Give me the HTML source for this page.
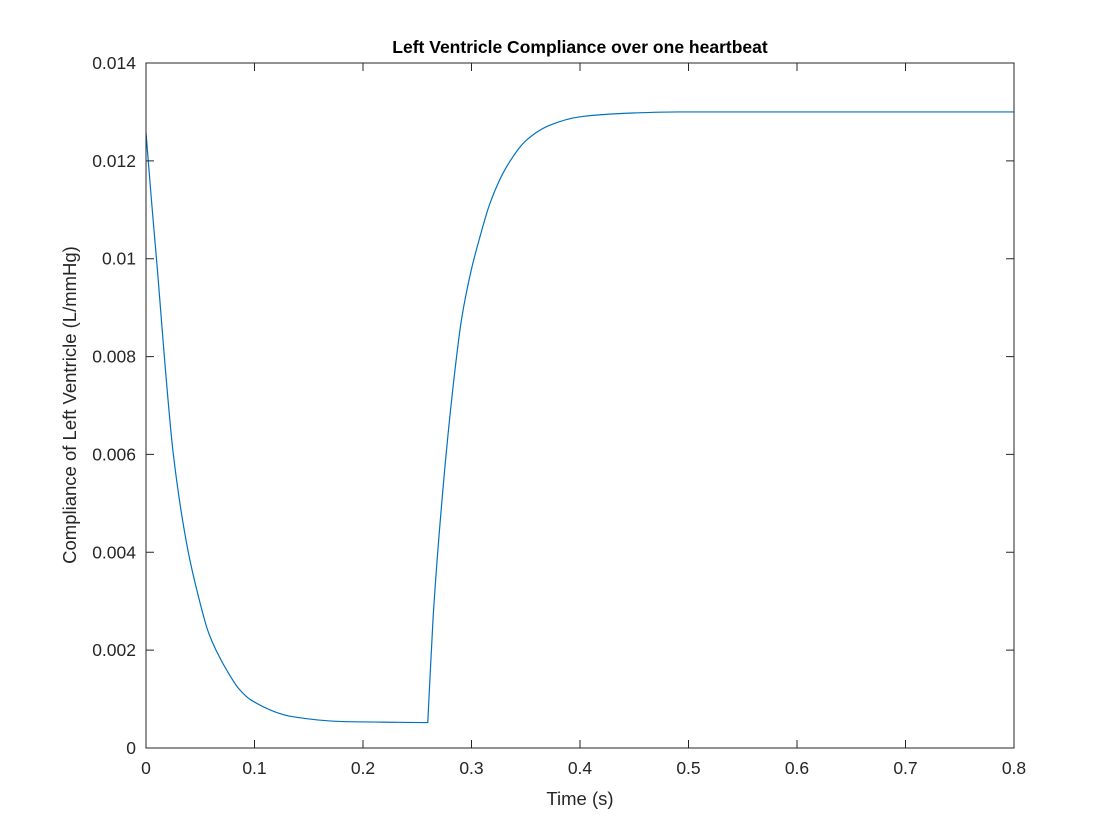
<!DOCTYPE html>
<html><head><meta charset="utf-8"><style>
body{margin:0;background:#fff;}
svg{display:block;font-family:"Liberation Sans",Arial,sans-serif;}
</style></head><body>
<svg id="chart" width="1120" height="840">
<rect x="0" y="0" width="1120" height="840" fill="#fff"/>
<rect x="146" y="63" width="868" height="685" fill="#fff" stroke="none"/>
<path id="line" fill="none" stroke="#0072BD" stroke-width="1.2"/>
<rect x="146" y="63" width="868" height="685" fill="none" stroke="#262626" stroke-width="1"/>
<g id="ticks"></g>
<text x="580" y="53" text-anchor="middle" font-size="17.5" font-weight="bold" fill="#000">Left Ventricle Compliance over one heartbeat</text>
<text x="580" y="805" text-anchor="middle" font-size="18.5" fill="#262626">Time (s)</text>
<text transform="translate(76,405) rotate(-90)" text-anchor="middle" font-size="18.5" fill="#262626">Compliance of Left Ventricle (L/mmHg)</text>
</svg>
<script>
const times=[0,0.005,0.0108,0.0169,0.0252,0.039,0.0507,0.0568,0.0645,0.0768,0.086,0.0968,0.1352,0.1813,0.2597,0.2646,0.2738,0.283,0.2908,0.3,0.3072,0.317,0.3324,0.351,0.3723,0.4,0.44,0.49,0.55,0.8];
const values=[0.01258,0.0112,0.0097,0.0080,0.0060,0.0040,0.00289,0.00241,0.0020,0.00150,0.00120,0.00098,0.00064,0.00054,0.00052,0.00266,0.00532,0.00738,0.00876,0.00979,0.0104,0.01113,0.01188,0.01243,0.01273,0.0129,0.01297,0.013,0.013,0.013];
const xTicks=[0,0.1,0.2,0.3,0.4,0.5,0.6,0.7,0.8];
const yTicks=[0,0.002,0.004,0.006,0.008,0.01,0.012,0.014];
const xTickLabels=["0","0.1","0.2","0.3","0.4","0.5","0.6","0.7","0.8"];
const yTickLabels=["0","0.002","0.004","0.006","0.008","0.01","0.012","0.014"];
const X0=146,X1=1014,Y0=748,Y1=63;
function sx(t){return X0+(t-0)/(0.8-0)*(X1-X0);}
function sy(v){return Y0-(v-0)/(0.014-0)*(Y0-Y1);}
const NS="http://www.w3.org/2000/svg";
function segPath(xs,ys){
  const n=xs.length;const dx=[],m=[],t=[];
  for(let i=0;i<n-1;i++){dx[i]=xs[i+1]-xs[i];m[i]=(ys[i+1]-ys[i])/dx[i];}
  t[0]=m[0];t[n-1]=m[n-2];
  for(let i=1;i<n-1;i++){t[i]=(m[i-1]*m[i]<=0)?0:3*(dx[i-1]+dx[i])/((2*dx[i]+dx[i-1])/m[i-1]+(dx[i]+2*dx[i-1])/m[i]);}
  let d="";
  for(let i=0;i<n-1;i++){
    const h=dx[i]/3;
    d+=`C${(xs[i]+h).toFixed(2)},${(ys[i]+t[i]*h).toFixed(2)} ${(xs[i+1]-h).toFixed(2)},${(ys[i+1]-t[i+1]*h).toFixed(2)} ${xs[i+1].toFixed(2)},${ys[i+1].toFixed(2)}`;
  }
  return d;
}
const px=times.map(sx),py=values.map(sy);
const k=14;
let d=`M${px[0].toFixed(2)},${py[0].toFixed(2)}`+segPath(px.slice(0,k+1),py.slice(0,k+1))+segPath(px.slice(k),py.slice(k));
document.getElementById("line").setAttribute("d",d);
const g=document.getElementById("ticks");
xTicks.forEach((t,i)=>{
  const x=sx(t);
  const l=document.createElementNS(NS,"path");
  l.setAttribute("d",`M${x},${Y0}V${Y0-8}M${x},${Y1}V${Y1+8}`);
  l.setAttribute("stroke","#262626");
  
  
  g.appendChild(l);
  const tx=document.createElementNS(NS,"text");
  tx.setAttribute("x",x);tx.setAttribute("y",Y0+26);
  tx.setAttribute("text-anchor","middle");tx.setAttribute("font-size","17.5");tx.setAttribute("fill","#262626");
  tx.textContent=xTickLabels[i];
  
  
  g.appendChild(tx);
});
yTicks.forEach((v,i)=>{
  const y=sy(v);
  const l=document.createElementNS(NS,"path");
  l.setAttribute("d",`M${X0},${y}H${X0+8}M${X1},${y}H${X1-8}`);
  l.setAttribute("stroke","#262626");
  
  
  g.appendChild(l);
  const tx=document.createElementNS(NS,"text");
  tx.setAttribute("x",X0-10);tx.setAttribute("y",y+6);
  tx.setAttribute("text-anchor","end");tx.setAttribute("font-size","17.5");tx.setAttribute("fill","#262626");
  tx.textContent=yTickLabels[i];
  
  
  g.appendChild(tx);
});
</script>
</body></html>
